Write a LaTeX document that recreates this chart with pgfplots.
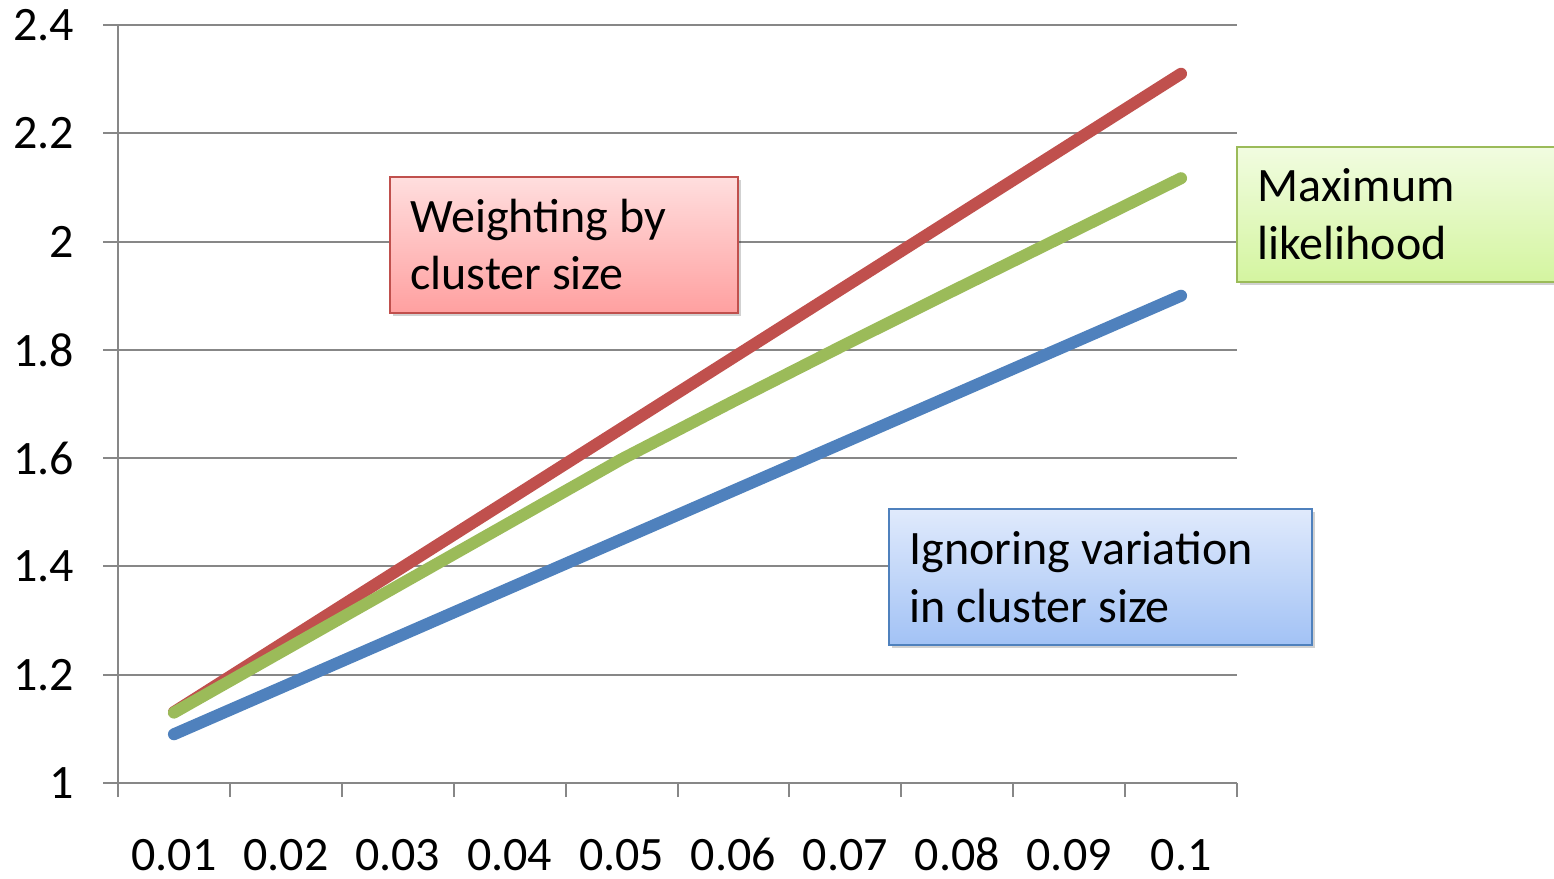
\documentclass[border=0pt]{standalone}
\usepackage{pgfplots}
\pgfplotsset{compat=1.18}
\usepackage{fontspec}
\setmainfont{Carlito}
\definecolor{cred}{HTML}{C0504D}
\definecolor{cgreen}{HTML}{9BBB59}
\definecolor{cblue}{HTML}{4F81BD}
\definecolor{gridc}{HTML}{878787}
\pgfplotstableread{
x red green blue
1 1.131 1.130 1.090
2 1.262 1.247 1.180
3 1.393 1.364 1.270
4 1.524 1.481 1.360
5 1.655 1.598 1.450
6 1.786 1.705 1.540
7 1.917 1.810 1.630
8 2.048 1.913 1.720
9 2.179 2.015 1.810
10 2.310 2.117 1.900
}\datatable
\newcommand{\bigfont}{\fontsize{24bp}{29bp}\selectfont}
\begin{document}
\begin{tikzpicture}
\path[use as bounding box] (0,0) rectangle (777bp,439.5bp);
\begin{axis}[
  at={(59bp,48bp)}, anchor=south west,
  scale only axis, width=559.5bp, height=379bp,
  xmin=0.5, xmax=10.5, ymin=1, ymax=2.4,
  axis x line*=bottom, axis y line*=left,
  axis line style={draw=gridc, line width=1bp},
  xtick={1,...,10},
  xticklabels={0.01,0.02,0.03,0.04,0.05,0.06,0.07,0.08,0.09,0.1},
  minor xtick={0.5,1.5,...,10.5},
  ytick={1,1.2,1.4,1.6,1.8,2,2.2,2.4},
  yticklabels={1,1.2,1.4,1.6,1.8,2,2.2,2.4},
  tick align=outside,
  major tick length=7.5bp, minor tick length=7bp,
  x tick style={draw=none},
  minor x tick style={draw=gridc, line width=1bp},
  y tick style={draw=gridc, line width=1bp},
  ymajorgrids, grid style={draw=gridc, line width=1bp},
  /pgf/number format/assume math mode=true,
  ticklabel style={font=\bigfont},
  xticklabel style={anchor=base, yshift=-36bp},
  yticklabel style={anchor=east, xshift=-11bp},
  clip=false,
]
\addplot[cblue, line width=6bp, line cap=round, line join=round] table[x=x,y=blue] {\datatable};
\addplot[cred, line width=6bp, line cap=round, line join=round] table[x=x,y=red] {\datatable};
\addplot[cgreen, line width=6bp, line cap=round, line join=round] table[x=x,y=green] {\datatable};
\end{axis}
% text boxes
\fill[black, opacity=0.18] (196.5bp,281.5bp) rectangle (370.5bp,349.5bp);
\shade[top color={rgb,255:red,255;green,222;blue,222}, bottom color={rgb,255:red,255;green,160;blue,160}] (195bp,283bp) rectangle (369bp,351bp);
\draw[cred, line width=1bp] (195bp,283bp) rectangle (369bp,351bp);
\node[anchor=base west, inner sep=0pt, font=\bigfont] at (205bp,323bp) {Weighting by};
\node[anchor=base west, inner sep=0pt, font=\bigfont] at (205bp,294.5bp) {cluster size};

\fill[black, opacity=0.18] (620bp,297bp) rectangle (790bp,364.5bp);
\shade[top color={rgb,255:red,241;green,252;blue,224}, bottom color={rgb,255:red,212;green,245;blue,160}] (618.5bp,298.5bp) rectangle (790bp,366bp);
\draw[cgreen, line width=1bp] (618.5bp,298.5bp) rectangle (790bp,366bp);
\node[anchor=base west, inner sep=0pt, font=\bigfont] at (628.5bp,338.5bp) {Maximum};
\node[anchor=base west, inner sep=0pt, font=\bigfont] at (628.5bp,309.5bp) {likelihood};

\fill[black, opacity=0.18] (446bp,115.5bp) rectangle (657.5bp,183.5bp);
\shade[top color={rgb,255:red,224;green,234;blue,252}, bottom color={rgb,255:red,162;green,194;blue,245}] (444.5bp,117bp) rectangle (656bp,185bp);
\draw[cblue, line width=1bp] (444.5bp,117bp) rectangle (656bp,185bp);
\node[anchor=base west, inner sep=0pt, font=\bigfont] at (454.5bp,157bp) {Ignoring variation};
\node[anchor=base west, inner sep=0pt, font=\bigfont] at (454.5bp,128bp) {in cluster size};
\end{tikzpicture}
\end{document}
